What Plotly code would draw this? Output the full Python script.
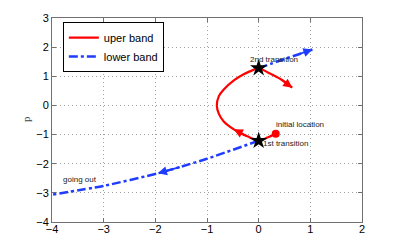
import plotly.graph_objects as go

# upper band trajectory (red)
upper_x = [0.33, 0.17, 0.0, -0.21, -0.48, -0.68, -0.77, -0.81, -0.77, -0.68, -0.48, -0.29, -0.1, 0.0, 0.17, 0.43, 0.65]
upper_y = [-0.97, -1.1, -1.21, -1.07, -0.82, -0.54, -0.29, 0.0, 0.32, 0.54, 0.86, 1.07, 1.22, 1.28, 1.14, 0.9, 0.61]

# lower band trajectory (blue), two pieces
lower_x = [0.0, -1.0, -1.5, -1.95, -3.0, -4.0, None, 0.0, 0.43, 0.75, 1.04]
lower_y = [-1.21, -1.83, -2.1, -2.33, -2.76, -3.06, None, 1.28, 1.55, 1.74, 1.92]

# transitions and start
trans_x = [0.0, 0.0]
trans_y = [-1.21, 1.28]
start_x = [0.33]
start_y = [-0.97]

# arrows as (from index, to index) pairs into the curves
upper_arrows = [(3, 4), (15, 16)]
lower_arrows = [(2, 3), (9, 10)]

labels = ["2nd transition", "initial location", "1st transition", "going out"]
label_x = [-0.21, 0.29, 0.04, -3.83]
label_y = [1.57, -0.64, -1.29, -2.54]

fig = go.Figure()
fig.add_trace(go.Scatter(x=upper_x, y=upper_y, mode="lines", name="uper band",
                         line=dict(color="#ff0000", width=2.2, shape="spline", smoothing=0.8)))
fig.add_trace(go.Scatter(x=lower_x, y=lower_y, mode="lines", name="lower band",
                         line=dict(color="#1f3dff", width=2.5, dash="dashdot", shape="spline", smoothing=0.6)))
fig.add_trace(go.Scatter(x=trans_x, y=trans_y, mode="markers", showlegend=False,
                         marker=dict(symbol="star", size=13, color="black")))
fig.add_trace(go.Scatter(x=start_x, y=start_y, mode="markers", showlegend=False,
                         marker=dict(symbol="circle", size=8, color="#ff0000")))

anns = []
for (i, j) in upper_arrows:
    anns.append(dict(x=upper_x[j], y=upper_y[j], ax=upper_x[i], ay=upper_y[i], xref="x", yref="y",
                     axref="x", ayref="y", text="", showarrow=True, arrowhead=2, arrowsize=1.0,
                     arrowwidth=1.8, arrowcolor="#ff0000"))
for (i, j) in lower_arrows:
    anns.append(dict(x=lower_x[j], y=lower_y[j], ax=lower_x[i], ay=lower_y[i], xref="x", yref="y",
                     axref="x", ayref="y", text="", showarrow=True, arrowhead=2, arrowsize=1.0,
                     arrowwidth=1.8, arrowcolor="#1f3dff"))
for t, lx, ly in zip(labels, label_x, label_y):
    anns.append(dict(x=lx, y=ly, text=t, showarrow=False, xanchor="left", yanchor="middle",
                     font=dict(family="Liberation Sans", size=8, color="#222")))
# axis titles
anns.append(dict(x=0.5, y=-0.075, xref="paper", yref="paper", text="x", showarrow=False,
                 xanchor="center", yanchor="top", borderpad=0,
                 font=dict(family="Liberation Serif", size=10, color="#444")))
anns.append(dict(x=-0.084, y=0.505, xref="paper", yref="paper", text="p", showarrow=False,
                 textangle=-90, xanchor="center", yanchor="middle",
                 font=dict(family="Liberation Serif", size=11, color="#444")))
fig.update_layout(annotations=anns)

axis_common = dict(showline=True, linecolor="#707070", linewidth=1, mirror="ticks",
                   ticks="inside", ticklen=4, tickcolor="#707070", automargin=False,
                   showgrid=True, gridcolor="#a0a0a0", griddash="1px,3px", gridwidth=1,
                   zeroline=False, tickfont=dict(family="Liberation Sans", size=11, color="black"))
fig.update_xaxes(range=[-4, 2], dtick=1, ticklabelstandoff=-3, **axis_common)
fig.update_yaxes(range=[-4, 3], dtick=1, **axis_common)

# page body has an 8px margin, so the figure is sized to fit the 400x241 window
fig.update_layout(
    width=392, height=233,
    margin=dict(l=44, r=38, t=10, b=19),
    plot_bgcolor="white", paper_bgcolor="white",
    legend=dict(x=0.035, y=0.98, xanchor="left", yanchor="top", bgcolor="white",
                bordercolor="black", borderwidth=1, itemwidth=30, tracegroupgap=0,
                font=dict(family="Liberation Sans", size=11, color="black")),
)

fig.write_html("out.html")
